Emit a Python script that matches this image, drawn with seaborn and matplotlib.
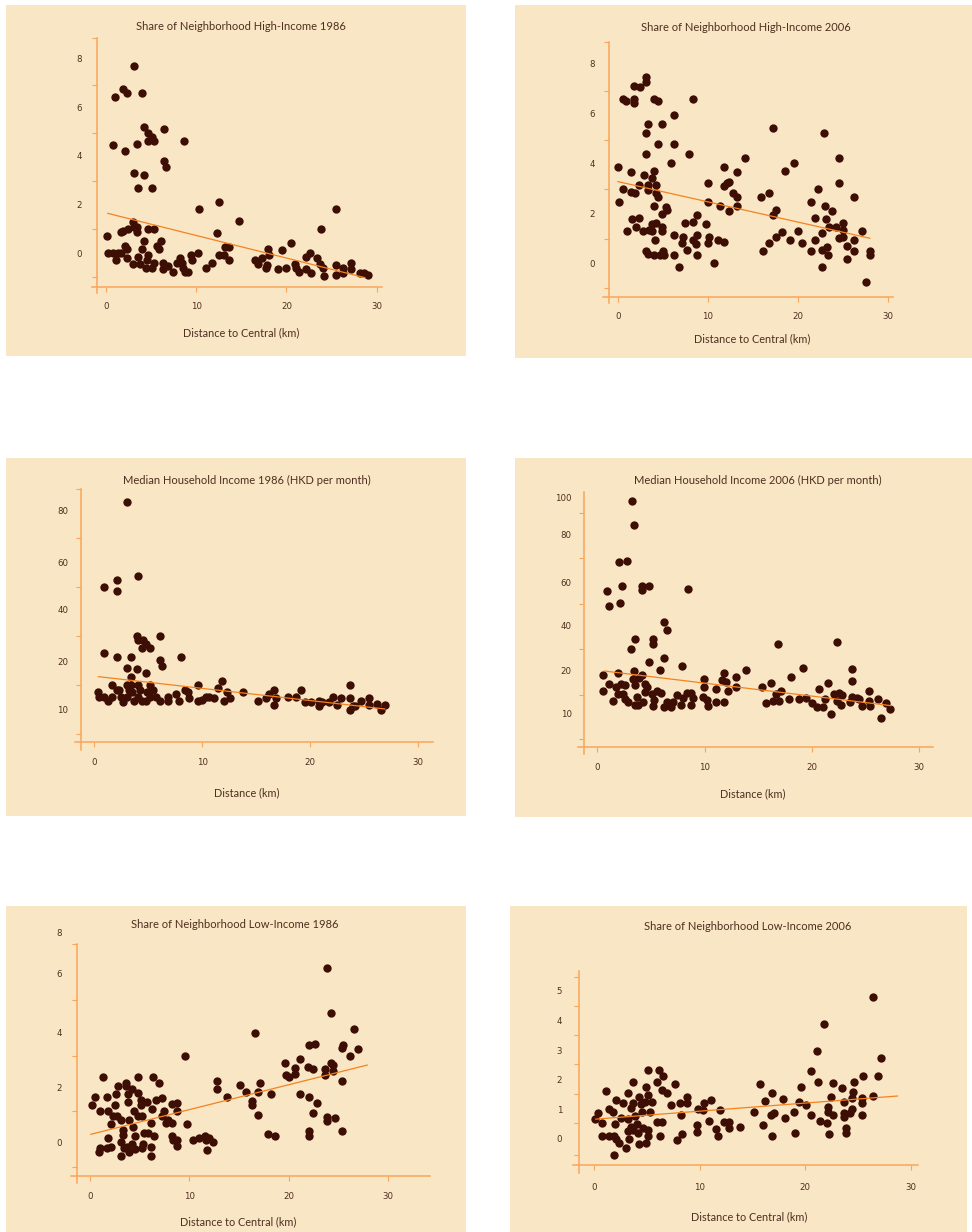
import numpy as np
import matplotlib
matplotlib.use("Agg")
import matplotlib.pyplot as plt
import seaborn as sns
from matplotlib.patches import Rectangle
from matplotlib.ticker import FixedLocator, NullLocator

sns.set_theme(style="white")
plt.rcParams['font.family'] = ['Lato', 'DejaVu Sans']

W, H = 972, 1232
BG = '#f9e6c4'
DOT = '#3d0e04'
AXC = '#f8a65a'
TREND = '#f5821f'
TXT = '#4e2e20'
TICKFONT = ['Liberation Sans Narrow', 'DejaVu Sans']

x_ticks = [0, 10, 20, 30]

# share high income 1986
hi86_x = [0.15, 0.26, 0.81, 1.37, 1.07, 1.03, 0.78, 1.85, 2.29, 2.1,
          3.07, 3.95, 3.1, 4.25, 3.4, 3.5, 5.1, 4.2, 4.7, 5.06,
          4.7, 5.36, 6.46, 6.46, 6.6, 8.64, 1.66, 1.92, 2.47, 3.03,
          3.14, 3.47, 3.4, 4.69, 5.36, 2.1, 2.29, 1.63, 2.29, 2.96,
          3.5, 3.95, 4.25, 3.77, 4.4, 4.7, 4.5, 5.06, 5.32, 5.6,
          5.87, 6.09, 6.35, 6.28, 6.9, 7.46, 7.83, 8.2, 8.39, 8.57,
          8.75, 9.12, 9.38, 9.49, 10.23, 10.34, 11.08, 11.71, 12.52, 12.34,
          12.52, 13.08, 13.19, 13.67, 13.67, 14.7, 16.5, 16.8, 17.25, 17.9,
          18.1, 17.8, 17.7, 19.1, 19.5, 20.0, 20.5, 20.9, 21.05, 21.4,
          22.2, 22.6, 22.2, 22.7, 23.35, 23.7, 23.8, 24.0, 24.2, 25.5,
          25.5, 25.5, 26.3, 26.3, 27.1, 27.2, 28.15, 28.6, 29.07]
hi86_y = [0.72, 0.03, 0.03, 0.03, -0.27, 6.43, 4.43, 6.76, 6.59, 4.2,
          7.69, 6.58, 3.31, 3.21, 4.5, 2.67, 2.67, 5.2, 4.92, 4.79,
          4.6, 4.6, 5.09, 3.8, 3.53, 4.6, 0.86, 0.92, 1.0, 1.3,
          1.09, 1.09, 0.86, 1.0, 1.0, 0.31, 0.16, 0.03, -0.2, -0.45,
          -0.14, 0.16, 0.5, -0.45, -0.62, -0.07, -0.27, -0.62, -0.41, 0.31,
          0.16, 0.5, -0.41, -0.66, -0.52, -0.75, -0.41, -0.2, -0.41, -0.62,
          -0.75, -0.75, -0.07, -0.27, 0.03, 1.81, -0.62, -0.41, 2.12, 0.85,
          -0.07, -0.07, 0.27, 0.27, -0.27, 1.31, -0.27, -0.45, -0.2, 0.16,
          -0.07, -0.48, -0.62, -0.66, 0.14, -0.62, 0.44, -0.45, -0.62, -0.78,
          -0.14, 0.03, -0.66, -0.82, -0.2, -0.45, 0.98, -0.62, -0.93, 1.81,
          -0.48, -0.89, -0.62, -0.82, -0.38, -0.66, -0.79, -0.79, -0.9]
hi86_trend_x = [0.18, 28.7]
hi86_trend_y = [1.64, -1.0]
hi86_yticks = [0, 2, 4, 6, 8]

# share high income 2006
hi06_x = [0.0, 0.19, 0.63, 0.93, 0.63, 1.0, 1.44, 1.44, 1.63, 1.85,
          1.85, 1.85, 1.93, 2.04, 2.33, 2.48, 2.41, 2.78, 2.89, 3.11,
          3.11, 3.11, 3.11, 3.33, 3.33, 3.33, 3.11, 3.33, 3.52, 3.78,
          3.78, 4.0, 4.0, 4.44, 4.44, 4.22, 4.22, 4.52, 4.0, 3.78,
          4.22, 4.15, 4.0, 4.7, 5.0, 5.15, 4.96, 4.96, 4.96, 4.89,
          5.37, 5.44, 5.89, 6.3, 6.3, 6.3, 6.3, 6.81, 7.22, 7.11,
          7.52, 7.7, 7.96, 8.41, 8.41, 8.41, 8.85, 8.85, 8.67, 8.85,
          9.81, 10.07, 10.07, 10.19, 10.07, 10.7, 11.19, 11.4, 11.85, 11.85,
          11.85, 12.1, 12.37, 12.37, 12.78, 13.2, 13.26, 13.26, 14.15, 15.9,
          16.1, 16.8, 16.8, 17.26, 17.26, 17.56, 17.56, 18.2, 18.6, 19.15,
          19.6, 20.07, 20.5, 21.5, 21.5, 21.96, 21.96, 22.3, 22.7, 22.67,
          22.67, 22.96, 23.07, 23.15, 23.2, 23.4, 23.5, 23.8, 24.26, 24.6,
          24.63, 24.63, 25.07, 25.07, 25.07, 25.5, 25.5, 26.26, 26.26, 26.26,
          27.1, 27.56, 28.04, 28.04]
hi06_y = [3.87, 2.44, 6.56, 6.51, 2.96, 1.29, 3.64, 2.87, 1.77, 7.11,
          6.56, 6.4, 2.8, 1.44, 1.8, 7.04, 3.13, 1.29, 3.55, 7.44,
          7.27, 5.23, 4.36, 5.56, 3.13, 2.93, 0.51, 0.37, 1.33, 1.29,
          3.4, 3.71, 6.56, 6.51, 4.77, 3.13, 2.8, 2.67, 2.29, 1.56,
          1.63, 0.93, 0.33, 0.33, 0.51, 0.33, 5.56, 1.44, 1.29, 1.96,
          2.27, 2.13, 4.03, 5.93, 4.77, 1.12, 0.33, -0.16, 1.07, 0.83,
          1.6, 0.53, 4.36, 6.56, 1.64, 0.93, 1.93, 1.12, 0.76, 0.33,
          1.56, 3.23, 2.44, 1.07, 0.83, 0.0, 0.93, 2.29, 3.87, 3.11,
          0.84, 3.2, 3.27, 2.09, 2.8, 2.67, 3.64, 2.29, 4.2, 2.67,
          0.48, 2.83, 0.83, 5.4, 1.93, 2.13, 1.07, 1.24, 3.71, 0.93,
          4.03, 1.29, 0.83, 2.44, 0.48, 0.93, 1.8, 2.96, 1.23, 0.53,
          -0.16, 5.23, 2.29, 1.77, 0.67, 0.33, 1.44, 2.09, 1.44, 4.2,
          3.23, 1.0, 1.6, 1.33, 1.07, 0.69, 0.16, 2.64, 0.93, 0.51,
          1.29, -0.73, 0.51, 0.33]
hi06_trend_x = [0.0, 28.04]
hi06_trend_y = [3.27, 1.0]
hi06_yticks = [0, 2, 4, 6, 8]

# median household income 1986
med86_x = [0.34, 0.49, 0.93, 0.93, 0.93, 1.26, 1.63, 1.67, 2.1, 2.1,
           2.1, 2.1, 2.31, 2.47, 2.65, 3.02, 3.02, 3.02, 3.02, 3.27,
           3.42, 3.42, 3.42, 3.55, 3.67, 4.04, 4.0, 4.04, 4.0, 4.04,
           4.04, 4.26, 4.41, 4.56, 4.47, 4.78, 4.78, 4.78, 4.9, 5.15,
           5.15, 5.15, 5.49, 5.77, 6.14, 6.14, 6.29, 6.14, 6.88, 6.88,
           7.55, 7.9, 8.05, 8.42, 8.73, 8.79, 9.62, 9.65, 9.96, 10.36,
           10.67, 11.13, 11.5, 11.87, 12.03, 12.27, 12.6, 13.75, 15.2, 15.88,
           16.22, 16.68, 16.68, 16.84, 17.95, 18.69, 19.12, 19.52, 20.04, 20.81,
           20.81, 21.12, 21.77, 22.14, 22.51, 22.85, 23.68, 23.68, 23.68, 23.99,
           24.14, 24.67, 25.41, 25.41, 26.15, 26.55, 26.92]
med86_y = [13.47, 12.57, 12.57, 49.3, 23.2, 11.67, 15.0, 12.57, 52.4, 47.7,
           21.7, 13.96, 13.96, 12.57, 11.39, 82.9, 18.47, 15.0, 12.57, 13.96,
           21.7, 16.74, 15.0, 13.47, 11.67, 54.3, 29.6, 28.1, 18.3, 15.0,
           12.57, 13.96, 24.9, 28.1, 11.67, 26.4, 17.4, 11.67, 13.47, 24.9,
           15.0, 12.57, 13.96, 12.57, 29.6, 20.4, 19.0, 11.67, 12.57, 11.67,
           13.1, 11.67, 21.7, 13.96, 13.47, 12.2, 15.0, 11.67, 11.88, 12.57,
           12.57, 12.2, 14.3, 15.83, 11.67, 13.47, 12.2, 13.47, 11.67, 12.36,
           13.06, 13.96, 10.83, 12.2, 12.43, 12.43, 13.96, 11.39, 11.39, 11.67,
           10.69, 11.53, 11.39, 12.57, 10.83, 12.2, 15.0, 12.2, 9.79, 10.69,
           10.69, 11.67, 12.2, 10.83, 10.97, 9.79, 10.83]
med86_trend_x = [0.4, 26.92]
med86_trend_y = [16.74, 10.0]
med86_yticks = [10, 20, 40, 60, 80]

# median household income 2006
med06_x = [0.53, 0.53, 0.9, 1.06, 1.09, 1.43, 1.74, 1.96, 2.05, 2.11,
           2.21, 1.96, 2.33, 2.42, 2.58, 2.58, 2.74, 2.89, 3.14, 3.26,
           3.42, 3.51, 3.42, 3.3, 3.51, 3.51, 3.76, 3.67, 3.92, 4.13,
           4.17, 4.2, 4.29, 4.45, 4.6, 4.45, 4.82, 4.82, 5.07, 5.16,
           5.16, 5.16, 5.32, 5.53, 5.88, 5.91, 6.22, 6.47, 6.25, 6.22,
           6.47, 6.84, 7.02, 7.46, 7.86, 7.77, 8.02, 8.4, 8.42, 8.77,
           8.77, 8.95, 9.82, 9.98, 9.98, 10.23, 10.35, 11.1, 11.1, 11.6,
           11.81, 11.84, 12.0, 12.22, 12.9, 12.9, 13.83, 15.39, 15.73, 16.23,
           16.35, 16.63, 16.88, 16.91, 17.1, 18.06, 17.9, 18.78, 19.15, 19.46,
           19.99, 20.52, 20.7, 21.08, 21.23, 21.48, 21.79, 22.07, 22.32, 22.32,
           22.54, 22.7, 22.85, 23.56, 23.72, 23.72, 23.72, 24.2, 24.43, 24.65,
           25.36, 25.36, 25.43, 26.2, 26.42, 26.92, 27.29]
med06_y = [19.06, 15.39, 56.0, 49.3, 16.95, 12.97, 16.33, 19.45, 68.5, 50.7,
           16.95, 14.53, 58.2, 14.53, 16.72, 13.36, 69.2, 12.81, 29.6, 98.1,
           85.1, 34.1, 20.1, 18.1, 16.72, 12.03, 12.03, 13.98, 18.28, 58.5,
           56.4, 19.06, 12.81, 16.87, 16.17, 15.16, 58.2, 24.0, 14.53, 34.1,
           31.8, 11.88, 13.2, 15.31, 20.44, 14.77, 42.0, 38.2, 25.6, 11.64,
           12.81, 11.64, 12.81, 14.38, 22.2, 12.03, 13.59, 14.77, 57.0, 14.77,
           12.03, 13.75, 13.83, 18.13, 16.33, 13.2, 11.88, 15.7, 12.81, 17.9,
           19.6, 12.81, 17.5, 15.39, 18.52, 16.33, 20.44, 16.33, 12.42, 17.19,
           12.97, 14.53, 31.85, 12.97, 15.31, 18.67, 13.36, 13.36, 21.2, 13.75,
           12.42, 11.48, 15.7, 11.48, 13.36, 17.19, 9.92, 14.53, 32.7, 12.97,
           14.77, 12.03, 14.38, 12.66, 21.0, 17.73, 13.83, 13.59, 13.36, 11.88,
           15.39, 12.97, 11.8, 13.52, 8.9, 12.42, 11.09]
med06_trend_x = [0.65, 27.4]
med06_trend_y = [20.0, 11.88]
med06_yticks = [10, 20, 40, 60, 80, 100]

# share low income 1986
lo86_x = [0.2, 0.5, 0.87, 1.01, 1.01, 1.27, 1.68, 1.74, 1.84, 1.84,
          2.11, 2.11, 2.28, 2.51, 2.61, 2.68, 2.85, 3.08, 3.08, 3.08,
          3.29, 3.29, 3.42, 3.62, 3.62, 3.69, 3.86, 3.86, 3.89, 3.96,
          4.19, 4.22, 4.29, 4.46, 4.53, 4.53, 4.79, 4.86, 4.86, 5.1,
          5.1, 5.2, 5.2, 5.3, 5.46, 5.7, 5.8, 6.1, 6.1, 6.1,
          6.2, 6.37, 6.4, 6.6, 6.97, 7.21, 7.21, 7.44, 7.61, 7.88,
          8.21, 8.28, 8.28, 8.38, 8.72, 8.72, 8.78, 8.78, 9.55, 9.79,
          10.33, 11.0, 11.57, 11.63, 11.8, 12.0, 12.4, 12.74, 12.74, 13.74,
          15.09, 15.69, 16.26, 16.26, 16.63, 16.86, 16.86, 17.06, 17.9, 18.17,
          18.6, 19.65, 19.68, 20.05, 20.65, 20.65, 21.09, 21.09, 21.89, 22.03,
          22.03, 22.06, 22.06, 22.39, 22.46, 22.66, 22.86, 23.63, 23.63, 23.8,
          23.8, 23.8, 24.2, 24.2, 24.47, 24.47, 24.64, 25.34, 25.48, 25.38,
          25.38, 26.15, 26.58, 26.92]
lo86_y = [1.35, 1.64, -0.36, -0.22, 1.14, 2.36, 1.64, -0.22, 1.14, 0.17,
          -0.16, 0.67, 0.96, 1.35, 1.76, 0.96, 2.05, 0.81, 0.0, -0.5,
          0.45, 0.27, -0.22, 2.17, 2.06, -0.16, 1.76, 1.48, 0.81, -0.34,
          1.93, -0.07, 0.57, 1.14, -0.25, 0.23, 0.96, 2.36, 1.81, 1.54,
          1.35, 0.96, -0.22, -0.07, 0.33, 1.45, 0.33, -0.16, 0.72, -0.5,
          1.2, 2.36, 0.23, 1.54, 2.17, 1.6, 0.96, 1.14, 0.72, 0.81,
          0.72, 1.38, 0.23, 0.08, 1.42, 1.14, 0.08, -0.13, 3.15, 0.65,
          0.08, 0.17, 0.23, 0.08, -0.28, 0.17, 0.0, 2.23, 1.93, 1.64,
          2.08, 1.84, 1.5, 1.35, 3.96, 0.99, 1.84, 2.17, 0.29, 1.76,
          0.23, 2.87, 2.45, 2.36, 2.69, 2.48, 3.02, 1.76, 2.75, 3.53,
          1.64, 0.42, 0.23, 2.65, 1.05, 3.56, 1.42, 2.65, 2.45, 6.24,
          0.93, 0.79, 4.64, 2.87, 2.81, 2.61, 0.87, 3.42, 3.53, 2.23,
          0.42, 3.15, 4.1, 3.38]
lo86_trend_x = [0.07, 27.9]
lo86_trend_y = [0.29, 2.81]
lo86_yticks = [0, 2, 4, 6, 8]

# share low income 2006
lo06_x = [0.09, 0.41, 0.79, 0.79, 1.14, 1.42, 1.42, 1.77, 1.89, 1.99,
          2.09, 2.09, 1.89, 2.37, 2.56, 2.78, 3.03, 3.25, 3.25, 3.25,
          3.32, 3.47, 3.5, 3.66, 3.66, 3.73, 3.88, 4.04, 4.14, 4.26,
          4.26, 4.42, 4.52, 4.67, 4.83, 4.93, 4.93, 5.09, 5.15, 5.15,
          5.15, 5.34, 5.46, 5.94, 5.94, 6.19, 6.28, 6.41, 6.41, 6.57,
          6.95, 7.26, 7.67, 7.89, 8.15, 8.21, 8.37, 8.78, 8.78, 9.79,
          9.79, 9.88, 10.29, 10.45, 10.89, 11.08, 11.56, 11.78, 11.94, 12.31,
          12.79, 12.82, 13.83, 15.19, 15.72, 16.04, 16.2, 16.77, 16.83, 16.83,
          17.02, 17.87, 18.09, 18.98, 19.04, 19.45, 19.61, 20.05, 20.56, 20.56,
          21.16, 21.19, 21.41, 21.82, 22.04, 22.2, 22.2, 22.26, 22.45, 22.61,
          22.67, 23.52, 23.68, 23.71, 23.71, 23.84, 23.84, 24.25, 24.41, 24.47,
          24.57, 24.66, 25.36, 25.36, 25.36, 25.51, 26.46, 26.46, 26.87, 27.16]
lo06_y = [0.67, 0.89, 0.55, 0.11, 1.63, 1.01, 0.11, 0.92, 0.11, 0.51,
          1.31, -0.01, -0.54, -0.15, 0.7, 1.2, -0.31, 1.54, 0.67, 0.27,
          -0.01, 1.03, 0.42, 1.93, 1.2, 0.3, 0.78, 0.51, 0.19, 1.4,
          -0.18, 1.18, 0.92, 0.36, 1.26, 1.74, -0.12, 0.11, 2.33, 1.48,
          0.3, 0.9, 1.24, 1.93, 0.58, 2.33, 0.11, 1.65, 0.58, 2.13,
          1.54, 1.15, 1.84, -0.03, 1.2, 0.81, 0.16, 1.43, 1.2, 0.47,
          0.25, 1.01, 0.98, 1.2, 0.62, 1.31, 0.33, 0.1, 0.98, 0.58,
          0.58, 0.36, 0.39, 0.9, 1.84, 0.47, 1.28, 0.81, 1.54, 0.1,
          0.89, 1.34, 0.7, 0.9, 0.21, 1.24, 1.74, 1.15, 2.29, 0.81,
          2.97, 1.93, 0.62, 3.87, 0.53, 1.09, 0.92, 0.17, 1.43, 1.88,
          0.81, 1.73, 1.24, 0.89, 0.73, 0.38, 0.19, 0.89, 1.0, 1.37,
          1.6, 1.93, 1.39, 1.2, 0.81, 2.13, 4.78, 1.46, 2.12, 2.72]
lo06_trend_x = [0.16, 28.77]
lo06_trend_y = [0.67, 1.45]
lo06_yticks = [0, 1, 2, 3, 4, 5]

# layout of each panel, in pixels of the 972x1232 picture
panels = [
    dict(title="Share of Neighborhood High-Income 1986", title_xy=(241, 27),
         xlabel="Distance to Central (km)", xlabel_xy=(241, 333), bg=(6, 5, 466, 356),
         yspine=(97.3, 37.7, 293.3), xspine=(287, 92.3, 381.7),
         xtick_px=(106, 376.7), ylab_px=[253.3, 205.3, 155.3, 109.3, 58.3], piecewise=False,
         yminor_px=[37.7, 85.3, 133.3, 181.3, 229.3, 277], xlab_dist=19, ylab_right=82.3,
         x=hi86_x, y=hi86_y, tx=hi86_trend_x, ty=hi86_trend_y, yt=hi86_yticks),
    dict(title="Share of Neighborhood High-Income 2006", title_xy=(745.8, 27.7),
         xlabel="Distance to Central (km)", xlabel_xy=(752.5, 339), bg=(515, 5, 972, 358),
         yspine=(609.3, 41.7, 303.3), xspine=(296.7, 603.3, 893.3),
         xtick_px=(617.7, 887.7), ylab_px=[263.3, 214.3, 163.3, 115.3, 63.3], piecewise=False,
         yminor_px=[41.7, 90.7, 140, 189.3, 238.7, 287.7], xlab_dist=20, ylab_right=595,
         x=hi06_x, y=hi06_y, tx=hi06_trend_x, ty=hi06_trend_y, yt=hi06_yticks),
    dict(title="Median Household Income 1986 (HKD per month)", title_xy=(247, 480),
         xlabel="Distance (km)", xlabel_xy=(246.8, 792.7), bg=(6, 458.3, 466, 815.7),
         yspine=(80.7, 489, 749.7), xspine=(742.3, 75, 433.3),
         xtick_px=(94, 418.3), ylab_px=[709, 661, 609, 562.3, 510], piecewise=True,
         yminor_px=[489, 538.3, 587.3, 636, 685, 734], xlab_dist=20, ylab_right=68.3,
         x=med86_x, y=med86_y, tx=med86_trend_x, ty=med86_trend_y, yt=med86_yticks),
    dict(title="Median Household Income 2006 (HKD per month)", title_xy=(758.2, 480),
         xlabel="Distance (km)", xlabel_xy=(752.5, 794), bg=(515, 458.3, 972, 816.7),
         yspine=(584, 492, 754.3), xspine=(747.3, 578.3, 933.3),
         xtick_px=(597.3, 919), ylab_px=[713.7, 671, 626, 582.3, 535, 497.3], piecewise=True,
         yminor_px=[513.3, 558.3, 604, 649.3, 695, 738.7], xlab_dist=20.4, ylab_right=571.7,
         x=med06_x, y=med06_y, tx=med06_trend_x, ty=med06_trend_y, yt=med06_yticks),
    dict(title="Share of Neighborhood Low-Income 1986", title_xy=(234.5, 924),
         xlabel="Distance to Central (km)", xlabel_xy=(238, 1221.7), bg=(6, 906, 466, 1232),
         yspine=(77.3, 944, 1183.3), xspine=(1176, 71, 430),
         xtick_px=(90, 388.3), ylab_px=[1142.3, 1087.3, 1032.3, 973.3, 932.3], piecewise=True,
         yminor_px=[944, 1000, 1055.7, 1111, 1166.7], xlab_dist=20.7, ylab_right=62.3,
         x=lo86_x, y=lo86_y, tx=lo86_trend_x, ty=lo86_trend_y, yt=lo86_yticks),
    dict(title="Share of Neighborhood Low-Income 2006", title_xy=(747.8, 926),
         xlabel="Distance to Central (km)", xlabel_xy=(749.2, 1216.7), bg=(510, 906, 967, 1232),
         yspine=(579, 970.7, 1172.7), xspine=(1165, 572.7, 918.3),
         xtick_px=(594, 910.7), ylab_px=[1139, 1109.3, 1079.7, 1050, 1020.3, 990.7], piecewise=False,
         yminor_px=[976.7, 1006, 1035.3, 1064.3, 1093.7, 1122.7, 1155], xlab_dist=22.3, ylab_right=562.3,
         x=lo06_x, y=lo06_y, tx=lo06_trend_x, ty=lo06_trend_y, yt=lo06_yticks),
]


def piecewise(vals, pix):
    # value -> pixel mapping through knots, straight lines past the ends
    v = np.asarray(vals, float)
    p = np.asarray(pix, float)
    s0 = (p[1] - p[0]) / (v[1] - v[0])
    s1 = (p[-1] - p[-2]) / (v[-1] - v[-2])
    v_ext = np.concatenate([[v[0] - 1e4], v, [v[-1] + 1e4]])
    p_ext = np.concatenate([[p[0] - 1e4 * s0], p, [p[-1] + 1e4 * s1]])
    fwd = lambda a: np.interp(a, v_ext, p_ext)
    inv = lambda a: np.interp(a, p_ext, v_ext)
    return fwd, inv


fig = plt.figure(figsize=(W / 100, H / 100), dpi=100)
fig.patch.set_facecolor('white')
PT = 72 / 100  # points per pixel

for p in panels:
    x0, y0, x1, y1 = p['bg']
    fig.add_artist(Rectangle((x0 / W, 1 - y1 / H), (x1 - x0) / W, (y1 - y0) / H,
                             transform=fig.transFigure, facecolor=BG, edgecolor='none', zorder=-5))
    ysx, yst, ysb = p['yspine']
    xsy, xsl, xsr = p['xspine']
    top = min([yst] + list(p['ylab_px'])) - 8
    ax = fig.add_axes([xsl / W, 1 - ysb / H, (xsr - xsl) / W, (ysb - top) / H])
    ax.patch.set_visible(False)

    if p['piecewise']:
        kv, kp = p['yt'], p['ylab_px']
    else:
        kv, kp = [p['yt'][0], p['yt'][-1]], [p['ylab_px'][0], p['ylab_px'][-1]]
    fy, iy = piecewise(kv, -np.asarray(kp))
    fx, ix = piecewise([x_ticks[0], x_ticks[-1]], p['xtick_px'])
    ax.set_xscale('function', functions=(fx, ix))
    ax.set_yscale('function', functions=(fy, iy))

    sns.scatterplot(x=p['x'], y=p['y'], ax=ax, color=DOT, s=36, linewidth=0, zorder=3)
    sns.lineplot(x=p['tx'], y=p['ty'], ax=ax, color=TREND, linewidth=0.9, zorder=4)

    ax.set_xlim(float(ix(xsl)), float(ix(xsr)))
    ax.set_ylim(float(iy(-ysb)), float(iy(-top)))

    for s in ['top', 'right']:
        ax.spines[s].set_visible(False)
    ax.spines['left'].set_position(('data', float(ix(ysx))))
    ax.spines['left'].set_bounds(float(iy(-ysb)), float(iy(-yst)))
    ax.spines['bottom'].set_position(('data', float(iy(-xsy))))
    ax.spines['bottom'].set_bounds(float(ix(xsl)), float(ix(xsr)))
    for s in ['left', 'bottom']:
        ax.spines[s].set_color(AXC)
        ax.spines[s].set_linewidth(1.1)

    ax.xaxis.set_major_locator(FixedLocator(x_ticks))
    ax.xaxis.set_minor_locator(NullLocator())
    ax.set_xticklabels([str(t) for t in x_ticks], fontfamily=TICKFONT, fontsize=6.2, color=TXT)
    ax.yaxis.set_major_locator(FixedLocator(p['yt']))
    ax.yaxis.set_minor_locator(FixedLocator([float(iy(-t)) for t in p['yminor_px']]))
    ax.set_yticklabels([str(t) for t in p['yt']], fontfamily=TICKFONT, fontsize=6.2, color=TXT)

    ax.tick_params(axis='x', which='major', bottom=True, direction='out', length=5 * PT,
                   width=0.8, color=AXC, pad=(p['xlab_dist'] - 5 - 4.5) * PT)
    ax.tick_params(axis='y', which='major', left=True, length=0,
                   pad=(ysx - p['ylab_right']) * PT)
    ax.tick_params(axis='y', which='minor', left=True, direction='out', length=5 * PT,
                   width=0.8, color=AXC)
    ax.set_xlabel('')
    ax.set_ylabel('')

    fig.text(p['title_xy'][0] / W, 1 - p['title_xy'][1] / H, p['title'],
             ha='center', va='center', fontsize=8, color=TXT)
    fig.text(p['xlabel_xy'][0] / W, 1 - p['xlabel_xy'][1] / H, p['xlabel'],
             ha='center', va='center', fontsize=7.8, color=TXT)

fig.savefig('out.png', dpi=100, facecolor='white')
